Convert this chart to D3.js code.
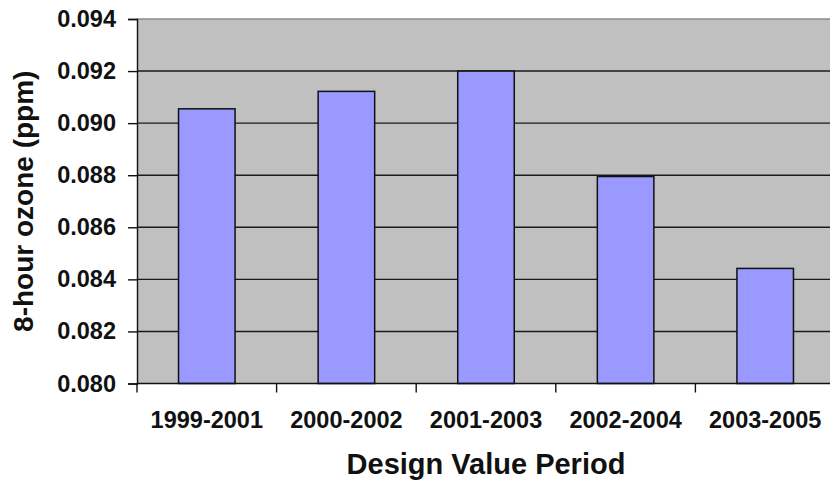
<!DOCTYPE html>
<html>
<head>
<meta charset="utf-8">
<script src="https://cdn.jsdelivr.net/npm/d3@7"></script>
<style>
  html, body { margin: 0; padding: 0; background: #fff; }
  svg { display: block; font-family: "Liberation Sans", Arial, sans-serif; }
</style>
</head>
<body>
<svg id="chart" width="830" height="488"></svg>
<script>
const categories = ["1999-2001", "2000-2002", "2001-2003", "2002-2004", "2003-2005"];
const values = [0.09055, 0.09122, 0.0920, 0.08795, 0.08442];
const yTicks = [0.080, 0.082, 0.084, 0.086, 0.088, 0.090, 0.092, 0.094];
const xTitle = "Design Value Period";
const yTitle = "8-hour ozone (ppm)";

(function () {
const svg = d3.select("#chart");
const pLeft = 137, pRight = 835, pTop = 19, pBottom = 383.5;

const x = d3.scaleBand().domain(categories).range([pLeft, pRight])
  .paddingInner(0.595).paddingOuter(0.2975);
const y = d3.scaleLinear().domain([0.080, 0.094]).range([pBottom, pTop]);

// plot background
svg.append("rect").attr("x", pLeft).attr("y", pTop)
  .attr("width", pRight - pLeft).attr("height", pBottom - pTop)
  .attr("fill", "#c0c0c0");

// gridlines
svg.append("g").selectAll("line").data(yTicks.slice(1)).join("line")
  .attr("x1", pLeft).attr("x2", pRight)
  .attr("y1", d => y(d)).attr("y2", d => y(d))
  .attr("stroke", (d, i, n) => i === n.length - 1 ? "#8a8a8a" : "#1a1a1a")
  .attr("stroke-width", 1.4);

// bars
svg.append("g").selectAll("rect").data(values).join("rect")
  .attr("x", (d, i) => x(categories[i]))
  .attr("width", x.bandwidth())
  .attr("y", d => y(d))
  .attr("height", d => y(0.080) - y(d))
  .attr("fill", "#9999ff")
  .attr("stroke", "#111")
  .attr("stroke-width", 1.5);

// y axis
const yAxis = d3.axisLeft(y).tickValues(yTicks).tickFormat(d3.format(".3f"))
  .tickSize(9).tickPadding(12);
const gy = svg.append("g").attr("transform", `translate(${pLeft},0)`).call(yAxis);
gy.select(".domain").attr("stroke", "#111").attr("stroke-width", 1.4);
gy.selectAll(".tick line").attr("stroke", "#111").attr("stroke-width", 1.4);
gy.selectAll(".tick text").attr("font-size", 23.5).attr("font-weight", "bold")
  .attr("fill", "#111").attr("font-family", "Liberation Sans, Arial, sans-serif");

// x axis
const xAxis = d3.axisBottom(x).tickSize(0).tickPadding(28);
const gx = svg.append("g").attr("transform", `translate(0,${pBottom})`).call(xAxis);
gx.select(".domain").remove();
gx.selectAll(".tick text").attr("font-size", 23.5).attr("font-weight", "bold")
  .attr("fill", "#111").attr("font-family", "Liberation Sans, Arial, sans-serif");
svg.append("line").attr("x1", pLeft).attr("x2", pRight)
  .attr("y1", pBottom).attr("y2", pBottom)
  .attr("stroke", "#111").attr("stroke-width", 1.4);
// category boundary ticks
const boundaries = categories.map(c => x(c) - x.step() * x.paddingOuter()).concat([pRight]);
svg.append("g").selectAll("line").data(boundaries).join("line")
  .attr("x1", d => d).attr("x2", d => d)
  .attr("y1", pBottom).attr("y2", pBottom + 9)
  .attr("stroke", "#111").attr("stroke-width", 1.4);

// axis titles
svg.append("text").attr("x", (pLeft + pRight) / 2).attr("y", 474)
  .attr("text-anchor", "middle").attr("font-size", 29).attr("font-weight", "bold")
  .attr("fill", "#111").text(xTitle);
svg.append("text")
  .attr("transform", `translate(33,${(pTop + pBottom) / 2}) rotate(-90)`)
  .attr("text-anchor", "middle").attr("font-size", 28).attr("font-weight", "bold")
  .attr("fill", "#111").text(yTitle);
})();
</script>
</body>
</html>
